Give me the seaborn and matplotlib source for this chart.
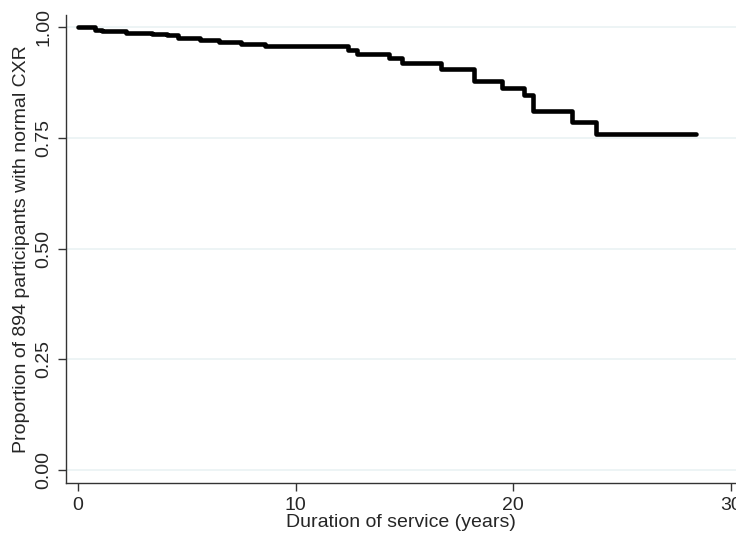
import numpy as np
import pandas as pd
import matplotlib
matplotlib.use('Agg')
import matplotlib.pyplot as plt
import seaborn as sns

# Kaplan-Meier step curve
times = [0, 0.8, 1.1, 2.2, 3.4, 4.1, 4.6, 5.6, 6.5, 7.5, 8.6, 12.4, 12.8,
         14.3, 14.9, 16.7, 18.2, 19.5, 20.5, 20.9, 22.7, 23.8, 28.4]
surv = [1.0, 0.995, 0.991, 0.988, 0.986, 0.983, 0.976, 0.971, 0.967, 0.963,
        0.958, 0.949, 0.940, 0.930, 0.919, 0.906, 0.878, 0.864, 0.847, 0.810,
        0.787, 0.759, 0.759]
xticks = [0, 10, 20, 30]
yticks = [0.0, 0.25, 0.5, 0.75, 1.0]
ytick_labels = ['0.00', '0.25', '0.50', '0.75', '1.00']

sns.set_style('white')
plt.rcParams['font.family'] = ['Liberation Sans', 'DejaVu Sans']

df = pd.DataFrame({'time': times, 'surv': surv})

fig = plt.figure(figsize=(7.36, 5.35), dpi=100)
ax = fig.add_axes([66 / 736, 1 - 482.7 / 535, (736 - 66) / 736, (482.7 - 15) / 535])

for y in yticks:
    ax.axhline(y, color='#eaf2f3', lw=1.2, zorder=0)

sns.lineplot(data=df, x='time', y='surv', drawstyle='steps-post',
             color='black', lw=3.3, ax=ax)

ax.set_xlim(-0.537, 30.22)
ax.set_ylim(-0.0287, 1.028)
ax.set_xticks(xticks)
ax.set_yticks(yticks)
ax.set_yticklabels(ytick_labels, rotation=90, va='center')
ax.tick_params(axis='both', direction='out', length=6, width=1.0,
               color='#333333', labelsize=14, pad=4, left=True, bottom=True)
ax.tick_params(axis='x', pad=4)

sns.despine(ax=ax)
for s in ['left', 'bottom']:
    ax.spines[s].set_color('#333333')
    ax.spines[s].set_linewidth(1.0)

ax.set_xlabel('Duration of service (years)', fontsize=14, labelpad=0)
ax.set_ylabel('Proportion of 894 participants with normal CXR', fontsize=14, labelpad=4)

fig.savefig('out.png', dpi=100)
